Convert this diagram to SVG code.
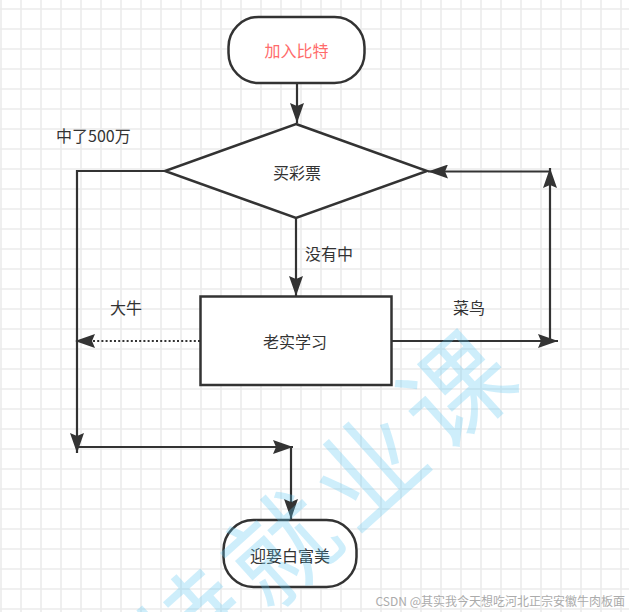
<svg xmlns="http://www.w3.org/2000/svg" width="629" height="612" viewBox="0 0 629 612">
<style>
.shape{fill:#ffffff;stroke:#333333;stroke-width:2.5}
.conn{fill:none;stroke:#333333;stroke-width:2.2}
.dot{stroke-dasharray:2 2.2}
.lbl{font-family:"Noto Sans CJK SC","Noto Sans",sans-serif;font-size:16px;fill:#333333;dominant-baseline:central}
.mid{text-anchor:middle}
.wm{font-family:"Noto Sans CJK SC",sans-serif;font-weight:normal;font-size:108px;fill:#5cc8f2;fill-opacity:0.3;text-anchor:middle;dominant-baseline:central}
.csdn{font-family:"Noto Sans CJK SC",sans-serif;font-size:12px;fill:#ababab;text-anchor:end;dominant-baseline:central}
</style>
<defs>
<pattern id="grid" patternUnits="userSpaceOnUse" x="-9" y="-1" width="20" height="20">
<path d="M10 0 V20 M0 10 H20" stroke="#ebebeb" stroke-width="1.6" fill="none"/>
</pattern>
<marker id="arr" markerUnits="userSpaceOnUse" markerWidth="20" markerHeight="14" refX="20" refY="7" orient="auto">
<path d="M0,0 L20,7 L0,14 L3,7 Z" fill="#333333"/>
</marker>
</defs>
<rect x="0" y="0" width="629" height="612" fill="#ffffff"/>
<rect x="0" y="0" width="629" height="612" fill="url(#grid)"/>

<g id="connectors">
<line class="conn" x1="297" y1="83" x2="297" y2="123" marker-end="url(#arr)"/>
<line class="conn" x1="296" y1="218" x2="296" y2="296" marker-end="url(#arr)"/>
<polyline class="conn" points="165,171 77,171 77,453" marker-end="url(#arr)"/>
<line class="conn" x1="77" y1="447" x2="293" y2="447" marker-end="url(#arr)"/>
<line class="conn" x1="291" y1="447" x2="291" y2="519" marker-end="url(#arr)"/>
<line class="conn dot" x1="200" y1="341" x2="75" y2="341" marker-end="url(#arr)"/>
<line class="conn" x1="392" y1="341" x2="558" y2="341" marker-end="url(#arr)"/>
<line class="conn" x1="550" y1="341" x2="550" y2="168" marker-end="url(#arr)"/>
<line class="conn" x1="551" y1="171.5" x2="428" y2="171.5" marker-end="url(#arr)"/>
</g>

<g id="start">
<rect class="shape" x="228.5" y="17" width="136" height="66" rx="30" ry="30"/>
<text class="lbl mid" x="296.5" y="50" style="fill:#ff6b6b">加入比特</text>
</g>

<g id="decision">
<polygon class="shape" points="296,124 427,171 296,218 165,171"/>
<text class="lbl mid" x="297" y="172">买彩票</text>
</g>

<g id="study">
<rect class="shape" x="200.5" y="296.5" width="191" height="88.5"/>
<text class="lbl mid" x="295" y="341">老实学习</text>
</g>

<g id="end">
<rect class="shape" x="223.5" y="520" width="133" height="67" rx="30" ry="30"/>
<text class="lbl mid" x="290" y="555">迎娶白富美</text>
</g>

<g id="labels">
<text class="lbl" x="56" y="135">中了500万</text>
<text class="lbl" x="305" y="253">没有中</text>
<text class="lbl" x="110" y="307">大牛</text>
<text class="lbl" x="453" y="307">菜鸟</text>
</g>

<g id="watermark">
<text class="wm" x="280" y="540" transform="rotate(-42 280 540)" letter-spacing="10">比特就业课</text>
<text class="csdn" x="625" y="600">CSDN @其实我今天想吃河北正宗安徽牛肉板面</text>
</g>
</svg>
